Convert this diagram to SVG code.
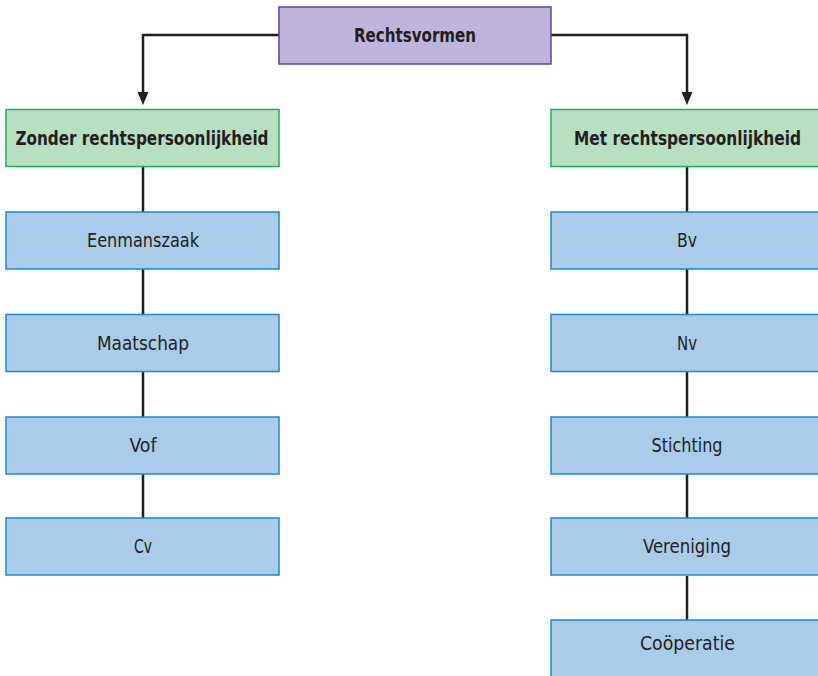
<svg xmlns="http://www.w3.org/2000/svg" width="818" height="676" viewBox="0 0 818 676">
<style>
.t{font-family:"Liberation Sans Narrow","DejaVu Sans Condensed","Liberation Sans",sans-serif;font-size:19px;fill:#231f20;text-anchor:middle}
.b{font-weight:bold}
.top{fill:#bfb4da;stroke:#5e449a;stroke-width:1.5}
.grn{fill:#b8dfc0;stroke:#1db254;stroke-width:1.5}
.blu{fill:#aacbea;stroke:#1a8bd2;stroke-width:1.5}
.ln{stroke:#231f20;stroke-width:2.5;fill:none}
.ah{fill:#231f20}
</style>
<rect width="818" height="676" fill="#ffffff"/>
<g id="connectors">
<path class="ln" d="M279,35 H143 V96"/>
<path class="ah" d="M137.5,92 L148.5,92 L143,105 Z"/>
<path class="ln" d="M551,35 H687 V96"/>
<path class="ah" d="M681.5,92 L692.5,92 L687,105 Z"/>
<path class="ln" d="M143,166 V212 M143,268 V314 M143,371 V417 M143,474 V519"/>
<path class="ln" d="M687,166 V212 M687,268 V314 M687,371 V417 M687,474 V519 M687,576 V621"/>
</g>
<g id="rechtsvormen">
<rect class="top" x="279" y="7" width="272" height="57"/>
<text class="t b" x="415" y="41.5" textLength="122" lengthAdjust="spacingAndGlyphs">Rechtsvormen</text>
</g>
<g id="zonder">
<rect class="grn" x="6" y="109.5" width="273" height="57"/>
<text class="t b" x="142" y="144.5" textLength="253" lengthAdjust="spacingAndGlyphs">Zonder rechtspersoonlijkheid</text>
</g>
<g id="met">
<rect class="grn" x="551" y="109.5" width="273" height="57"/>
<text class="t b" x="687.5" y="144.5" textLength="227" lengthAdjust="spacingAndGlyphs">Met rechtspersoonlijkheid</text>
</g>
<g id="eenmanszaak">
<rect class="blu" x="6" y="212" width="273" height="57"/>
<text class="t" x="143" y="247" textLength="112" lengthAdjust="spacingAndGlyphs">Eenmanszaak</text>
</g>
<g id="maatschap">
<rect class="blu" x="6" y="314.5" width="273" height="57"/>
<text class="t" x="143" y="349.5" textLength="92" lengthAdjust="spacingAndGlyphs">Maatschap</text>
</g>
<g id="vof">
<rect class="blu" x="6" y="417" width="273" height="57"/>
<text class="t" x="143" y="452" textLength="27" lengthAdjust="spacingAndGlyphs">Vof</text>
</g>
<g id="cv">
<rect class="blu" x="6" y="518" width="273" height="57"/>
<text class="t" x="143" y="553" textLength="18" lengthAdjust="spacingAndGlyphs">Cv</text>
</g>
<g id="bv">
<rect class="blu" x="551" y="212" width="273" height="57"/>
<text class="t" x="687" y="247" textLength="20" lengthAdjust="spacingAndGlyphs">Bv</text>
</g>
<g id="nv">
<rect class="blu" x="551" y="314.5" width="273" height="57"/>
<text class="t" x="687" y="349.5" textLength="20" lengthAdjust="spacingAndGlyphs">Nv</text>
</g>
<g id="stichting">
<rect class="blu" x="551" y="417" width="273" height="57"/>
<text class="t" x="687" y="452" textLength="71" lengthAdjust="spacingAndGlyphs">Stichting</text>
</g>
<g id="vereniging">
<rect class="blu" x="551" y="518" width="273" height="57"/>
<text class="t" x="687" y="553" textLength="88" lengthAdjust="spacingAndGlyphs">Vereniging</text>
</g>
<g id="cooperatie">
<rect class="blu" x="551" y="620" width="273" height="70"/>
<text class="t" x="687.5" y="650" textLength="95" lengthAdjust="spacingAndGlyphs">Coöperatie</text>
</g>
</svg>
